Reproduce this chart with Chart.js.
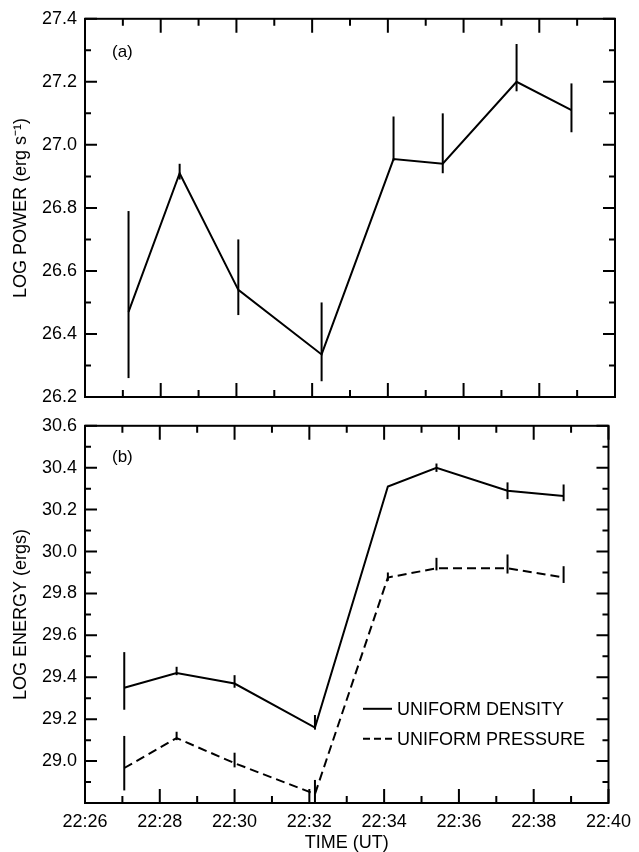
<!DOCTYPE html>
<html>
<head>
<meta charset="utf-8">
<script src="https://cdn.jsdelivr.net/npm/chart.js@4.4.1/dist/chart.umd.min.js"></script>
<style>
  body { margin: 0; background: #fff; }
  #wrap { position: relative; width: 639px; height: 852px; }
  canvas { position: absolute; left: 0; }
</style>
</head>
<body>
<div id="wrap">
  <canvas id="power-chart" width="639" height="420" style="top:0"></canvas>
  <canvas id="energy-chart" width="639" height="445" style="top:407px"></canvas>
</div>
<script>
// times in minutes after 22:00 UT
const powerTimes = [27.15, 28.5, 30.05, 32.25, 34.15, 35.45, 37.4, 38.85]
const logPower = [26.47, 26.91, 26.54, 26.335, 26.955, 26.94, 27.2, 27.11]
const powerHigh = [26.79, 26.94, 26.7, 26.5, 27.09, 27.1, 27.32, 27.195]
const powerLow = [26.26, 26.89, 26.46, 26.25, 26.95, 26.91, 27.17, 27.04]

const energyTimes = [27.05, 28.45, 30.0, 32.15, 34.1, 35.4, 37.3, 38.8]
const densityEnergy = [29.35, 29.42, 29.37, 29.16, 30.31, 30.4, 30.29, 30.265]
const densityHigh = [29.52, 29.45, 29.41, 29.22, 30.31, 30.42, 30.33, 30.32]
const densityLow = [29.245, 29.41, 29.35, 29.15, 30.31, 30.38, 30.25, 30.24]
const pressureEnergy = [28.967, 29.11, 28.99, 28.843, 29.876, 29.92, 29.92, 29.876]
const pressureHigh = [29.12, 29.14, 29.04, 28.91, 29.9, 29.97, 29.986, 29.93]
const pressureLow = [28.86, 29.1, 28.97, 28.8, 29.86, 29.91, 29.895, 29.85]

const xTickLabels = ['22:26', '22:28', '22:30', '22:32', '22:34', '22:36', '22:38', '22:40']
const legendLabels = ['UNIFORM DENSITY', 'UNIFORM PRESSURE']

const FONT = 'Liberation Sans, Arial, Helvetica, sans-serif'
const PLOT_LEFT = 85
const PLOT_RIGHT_PAD = 24

Chart.defaults.font.family = FONT
Chart.defaults.font.size = 18
Chart.defaults.color = '#000'

const toPoints = (xs, ys) => xs.map((x, i) => ({ x: x, y: ys[i] }))

// frame + inward ticks on all four sides
const frameTicks = {
  id: 'frameTicks',
  afterDraw(chart) {
    const { ctx, chartArea: a, scales } = chart
    ctx.save()
    ctx.strokeStyle = '#000'
    ctx.lineWidth = 2
    ctx.strokeRect(a.left, a.top, a.right - a.left, a.bottom - a.top)
    ctx.beginPath()
    scales.x.ticks.forEach((t) => {
      const px = scales.x.getPixelForValue(t.value)
      const len = Math.round(t.value) % 2 === 0 ? 14 : 7
      ctx.moveTo(px, a.bottom)
      ctx.lineTo(px, a.bottom - len)
      ctx.moveTo(px, a.top)
      ctx.lineTo(px, a.top + len)
    })
    scales.y.ticks.forEach((t) => {
      const py = scales.y.getPixelForValue(t.value)
      const len = Math.round(t.value * 10) % 2 === 0 ? 12 : 6
      ctx.moveTo(a.left, py)
      ctx.lineTo(a.left + len, py)
      ctx.moveTo(a.right, py)
      ctx.lineTo(a.right - len, py)
    })
    ctx.stroke()
    ctx.restore()
  },
}

// vertical error bars from dataset errLow / errHigh
const errorBars = {
  id: 'errorBars',
  afterDatasetsDraw(chart) {
    const { ctx, scales } = chart
    ctx.save()
    ctx.strokeStyle = '#000'
    ctx.lineWidth = 2
    ctx.setLineDash([])
    chart.data.datasets.forEach((ds, di) => {
      const meta = chart.getDatasetMeta(di)
      meta.data.forEach((pt, i) => {
        ctx.beginPath()
        ctx.moveTo(pt.x, scales.y.getPixelForValue(ds.errLow[i]))
        ctx.lineTo(pt.x, scales.y.getPixelForValue(ds.errHigh[i]))
        ctx.stroke()
      })
    })
    ctx.restore()
  },
}

const annotate = {
  id: 'annotate',
  afterDraw(chart, args, opts) {
    const { ctx, chartArea: a } = chart
    ctx.save()
    ctx.fillStyle = '#000'
    ctx.font = '17px ' + FONT
    ctx.textBaseline = 'middle'
    ctx.fillText(opts.panel, a.left + 27, a.top + opts.panelY)
    if (opts.legend) {
      ctx.font = '18px ' + FONT
      ctx.strokeStyle = '#000'
      ctx.lineWidth = 2
      opts.legend.forEach((item, i) => {
        const y = a.top + 283 + i * 30
        ctx.setLineDash(item.dash)
        ctx.beginPath()
        ctx.moveTo(a.left + 278, y)
        ctx.lineTo(a.left + 307, y)
        ctx.stroke()
        ctx.fillText(item.text, a.left + 312, y + 1)
      })
    }
    ctx.restore()
  },
}

const makeY = (min, max, title) => ({
  type: 'linear',
  min: min,
  max: max,
  afterFit: (scale) => {
    scale.width = PLOT_LEFT
  },
  grid: { display: false, drawTicks: false },
  border: { display: false },
  ticks: {
    stepSize: 0.1,
    autoSkip: false,
    padding: 8,
    callback: (v) => {
      const r = Math.round(v * 10)
      if (r % 2 !== 0 || r === 288) return ''
      return (r / 10).toFixed(1)
    },
  },
  title: { display: true, text: title, padding: { top: 10, bottom: 0 }, font: { size: 18 } },
})

const makeX = (showLabels, height) => ({
  type: 'linear',
  min: 26,
  max: 40,
  afterFit: (scale) => {
    scale.height = height
  },
  grid: { display: false, drawTicks: false },
  border: { display: false },
  ticks: {
    display: showLabels,
    stepSize: 1,
    autoSkip: false,
    maxRotation: 0,
    padding: 8,
    callback: (v) => (Math.round(v) % 2 === 0 ? xTickLabels[(Math.round(v) - 26) / 2] : ''),
  },
  title: {
    display: showLabels,
    text: 'TIME (UT)',
    padding: { top: 0, bottom: 0 },
    font: { size: 18, lineHeight: 1.0 },
  },
})

const lineSet = (points, low, high, dash) => ({
  data: points,
  errLow: low,
  errHigh: high,
  borderColor: '#000',
  borderWidth: 2,
  borderDash: dash,
  pointRadius: 0,
  tension: 0,
  fill: false,
})

new Chart(document.querySelector('#power-chart'), {
  type: 'line',
  data: {
    datasets: [lineSet(toPoints(powerTimes, logPower), powerLow, powerHigh, [])],
  },
  options: {
    responsive: false,
    animation: false,
    devicePixelRatio: 1,
    layout: { padding: { top: 18, right: PLOT_RIGHT_PAD, left: 0, bottom: 0 } },
    plugins: {
      legend: { display: false },
      tooltip: { enabled: false },
      annotate: { panel: '(a)', panelY: 34 },
    },
    scales: {
      x: makeX(false, 23),
      y: makeY(26.2, 27.4, 'LOG POWER (erg s\u207B\u00B9)'),
    },
  },
  plugins: [frameTicks, errorBars, annotate],
})

new Chart(document.querySelector('#energy-chart'), {
  type: 'line',
  data: {
    datasets: [
      lineSet(toPoints(energyTimes, densityEnergy), densityLow, densityHigh, []),
      lineSet(toPoints(energyTimes, pressureEnergy), pressureLow, pressureHigh, [9, 5]),
    ],
  },
  options: {
    responsive: false,
    animation: false,
    devicePixelRatio: 1,
    layout: { padding: { top: 5, right: PLOT_RIGHT_PAD, left: 0, bottom: 0 } },
    plugins: {
      legend: { display: false },
      tooltip: { enabled: false },
      annotate: {
        panel: '(b)',
        panelY: 32,
        legend: [
          { text: legendLabels[0], dash: [] },
          { text: legendLabels[1], dash: [7, 4] },
        ],
      },
    },
    scales: {
      x: makeX(true, 49),
      y: makeY(28.8, 30.6, 'LOG ENERGY (ergs)'),
    },
  },
  plugins: [frameTicks, errorBars, annotate],
})
</script>
</body>
</html>
